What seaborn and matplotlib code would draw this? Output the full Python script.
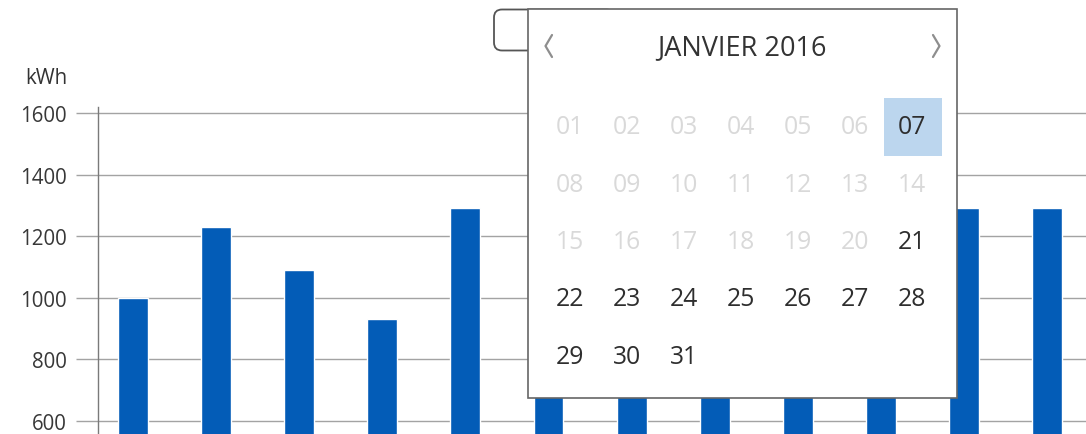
import numpy as np
import pandas as pd
import matplotlib
matplotlib.use("Agg")
import matplotlib.pyplot as plt
from matplotlib.patches import Rectangle, FancyBboxPatch
import seaborn as sns

# ---- data ----
periods = ["P01", "P02", "P03", "P04", "P05", "P06", "P07", "P08", "P09", "P10", "P11", "P12"]
consumption_kwh = [1000, 1230, 1090, 932, 1292, 1150, 1080, 1200, 1020, 1120, 1292, 1292]
y_ticks = [600, 800, 1000, 1200, 1400, 1600]
unit_label = "kWh"

calendar_title = "JANVIER 2016"
calendar_first_weekday = 0          # column index of day 1 as displayed
calendar_days = list(range(1, 32))
calendar_disabled = [d for d in range(1, 21) if d != 7]
calendar_selected = [7]

# ---- style ----
sns.set_theme(style="white")
plt.rcParams["font.family"] = ["Open Sans", "DejaVu Sans"]

BAR = "#035cb7"
GRID = "#a3a3a3"
SPINE = "#7a7a7a"
TXT = "#383838"

W, H = 1086, 435
fig = plt.figure(figsize=(W / 100, H / 100), dpi=100)
ax = fig.add_axes([98 / W, 0, (W - 98) / W, 1])

df = pd.DataFrame({"period": periods, "kwh": consumption_kwh})
sns.barplot(data=df, x="period", y="kwh", color=BAR, saturation=1, width=0.36, ax=ax, zorder=3)

ax.set_xlim(-0.421, 11.468)
ax.set_ylim(557.8, 1970.1)
ax.set_yticks(y_ticks)
ax.set_yticklabels([str(t) for t in y_ticks], fontsize=14.8, color=TXT)
ax.set_xticks([])
ax.set_xlabel("")
ax.set_ylabel("")
ax.yaxis.grid(True, color=GRID, linewidth=1.0)
ax.set_axisbelow(True)
ax.tick_params(axis="y", which="major", length=16, width=1.0, color=GRID, pad=6.5, left=True)
for s in ["top", "right", "bottom"]:
    ax.spines[s].set_visible(False)
ax.spines["left"].set_color(SPINE)
ax.spines["left"].set_linewidth(1.0)
ax.spines["left"].set_bounds(557.8, 1620)

fig.text(67 / W, 1 - 78 / H, unit_label, ha="right", va="center", fontsize=14.8, color="#333333")

# ---- calendar overlay ----
ov = fig.add_axes([0, 0, 1, 1], zorder=10)
ov.set_xlim(0, W)
ov.set_ylim(H, 0)
ov.axis("off")
ov.patch.set_alpha(0)

btn = FancyBboxPatch((494, 10.5), 120, 41, boxstyle="round,pad=0,rounding_size=8",
                     facecolor="white", edgecolor="#555555", linewidth=1.3)
ov.add_patch(btn)
cal = Rectangle((528, 10), 429, 389, facecolor="white", edgecolor="#666666", linewidth=1.2)
ov.add_patch(cal)

ov.text(742, 48, calendar_title, ha="center", va="center", fontsize=19.5, color="#333333")
ov.plot([552, 545.5, 552], [36, 47, 58], color="#8e8e8e", lw=1.6, solid_capstyle="round",
        solid_joinstyle="round")
ov.plot([933, 939.5, 933], [36, 47, 58], color="#8e8e8e", lw=1.6, solid_capstyle="round",
        solid_joinstyle="round")

x0, dx = 570, 57
y0, dy = 128, 57.3
for i, d in enumerate(calendar_days):
    idx = i + calendar_first_weekday
    col, row = idx % 7, idx // 7
    cx, cy = x0 + col * dx, y0 + row * dy
    if d in calendar_selected:
        ov.add_patch(Rectangle((cx - 28.5, cy - 29), 58, 58, facecolor="#bcd6ee", edgecolor="none"))
    color = "#d9d9d9" if d in calendar_disabled else "#2e2e2e"
    ov.text(cx, cy, f"{d:02d}", ha="center", va="center", fontsize=17.8, color=color)

fig.savefig("out.png", dpi=100)
